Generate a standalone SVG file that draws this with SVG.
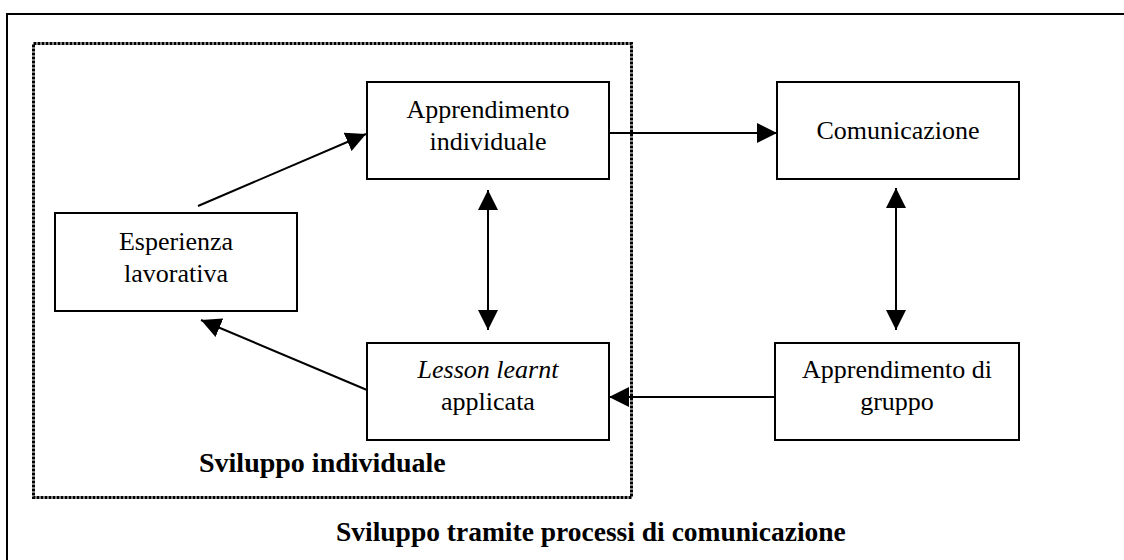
<svg xmlns="http://www.w3.org/2000/svg" width="1124" height="560" viewBox="0 0 1124 560">
<defs>
<style>
.frame{fill:none;stroke:#000;stroke-width:2}
.dotted{fill:none;stroke:#000;stroke-width:3;stroke-dasharray:3 1}
.box{fill:#fff;stroke:#000;stroke-width:2}
.lbl{font-family:"Liberation Serif","Times New Roman",serif;font-size:26px;fill:#000;text-anchor:middle}
.it{font-style:italic}
.title{font-family:"Liberation Serif","Times New Roman",serif;font-weight:bold;fill:#000}
.conn{fill:none;stroke:#000;stroke-width:2}
</style>
<marker id="ah" markerUnits="userSpaceOnUse" markerWidth="20" markerHeight="20" refX="20" refY="10" orient="auto-start-reverse" viewBox="0 0 20 20">
<path d="M0,0 L20,10 L0,20 z" fill="#000"/>
</marker>
</defs>
<rect class="frame" x="7" y="14" width="1140" height="580"/>
<rect class="dotted" x="33.5" y="43.5" width="598" height="454"/>
<g id="connectors">
<line class="conn" x1="198" y1="206" x2="366" y2="134" marker-end="url(#ah)"/>
<line class="conn" x1="609" y1="133" x2="777" y2="133" marker-end="url(#ah)"/>
<line class="conn" x1="488" y1="190" x2="488" y2="330" marker-start="url(#ah)" marker-end="url(#ah)"/>
<line class="conn" x1="896" y1="188" x2="896" y2="330" marker-start="url(#ah)" marker-end="url(#ah)"/>
<line class="conn" x1="775" y1="397" x2="609" y2="397" marker-end="url(#ah)"/>
<line class="conn" x1="367" y1="390" x2="201" y2="320" marker-end="url(#ah)"/>
</g>
<g id="apprendimento-individuale">
<rect class="box" x="367" y="82" width="242" height="97"/>
<text class="lbl" x="488" y="118">Apprendimento</text>
<text class="lbl" x="488" y="150">individuale</text>
</g>
<g id="comunicazione">
<rect class="box" x="777" y="82" width="242" height="97"/>
<text class="lbl" x="898" y="139">Comunicazione</text>
</g>
<g id="esperienza-lavorativa">
<rect class="box" x="55" y="213" width="242" height="98"/>
<text class="lbl" x="176" y="250">Esperienza</text>
<text class="lbl" x="176" y="282">lavorativa</text>
</g>
<g id="lesson-learnt">
<rect class="box" x="367" y="343" width="242" height="97"/>
<text class="lbl it" x="488" y="378">Lesson learnt</text>
<text class="lbl" x="488" y="410">applicata</text>
</g>
<g id="apprendimento-gruppo">
<rect class="box" x="775" y="343" width="244" height="97"/>
<text class="lbl" x="897" y="378">Apprendimento di</text>
<text class="lbl" x="897" y="410">gruppo</text>
</g>
<g id="labels">
<text class="title" x="199" y="472" font-size="28">Sviluppo individuale</text>
<text class="title" x="336" y="541" font-size="27.5">Sviluppo tramite processi di comunicazione</text>
</g>
</svg>
